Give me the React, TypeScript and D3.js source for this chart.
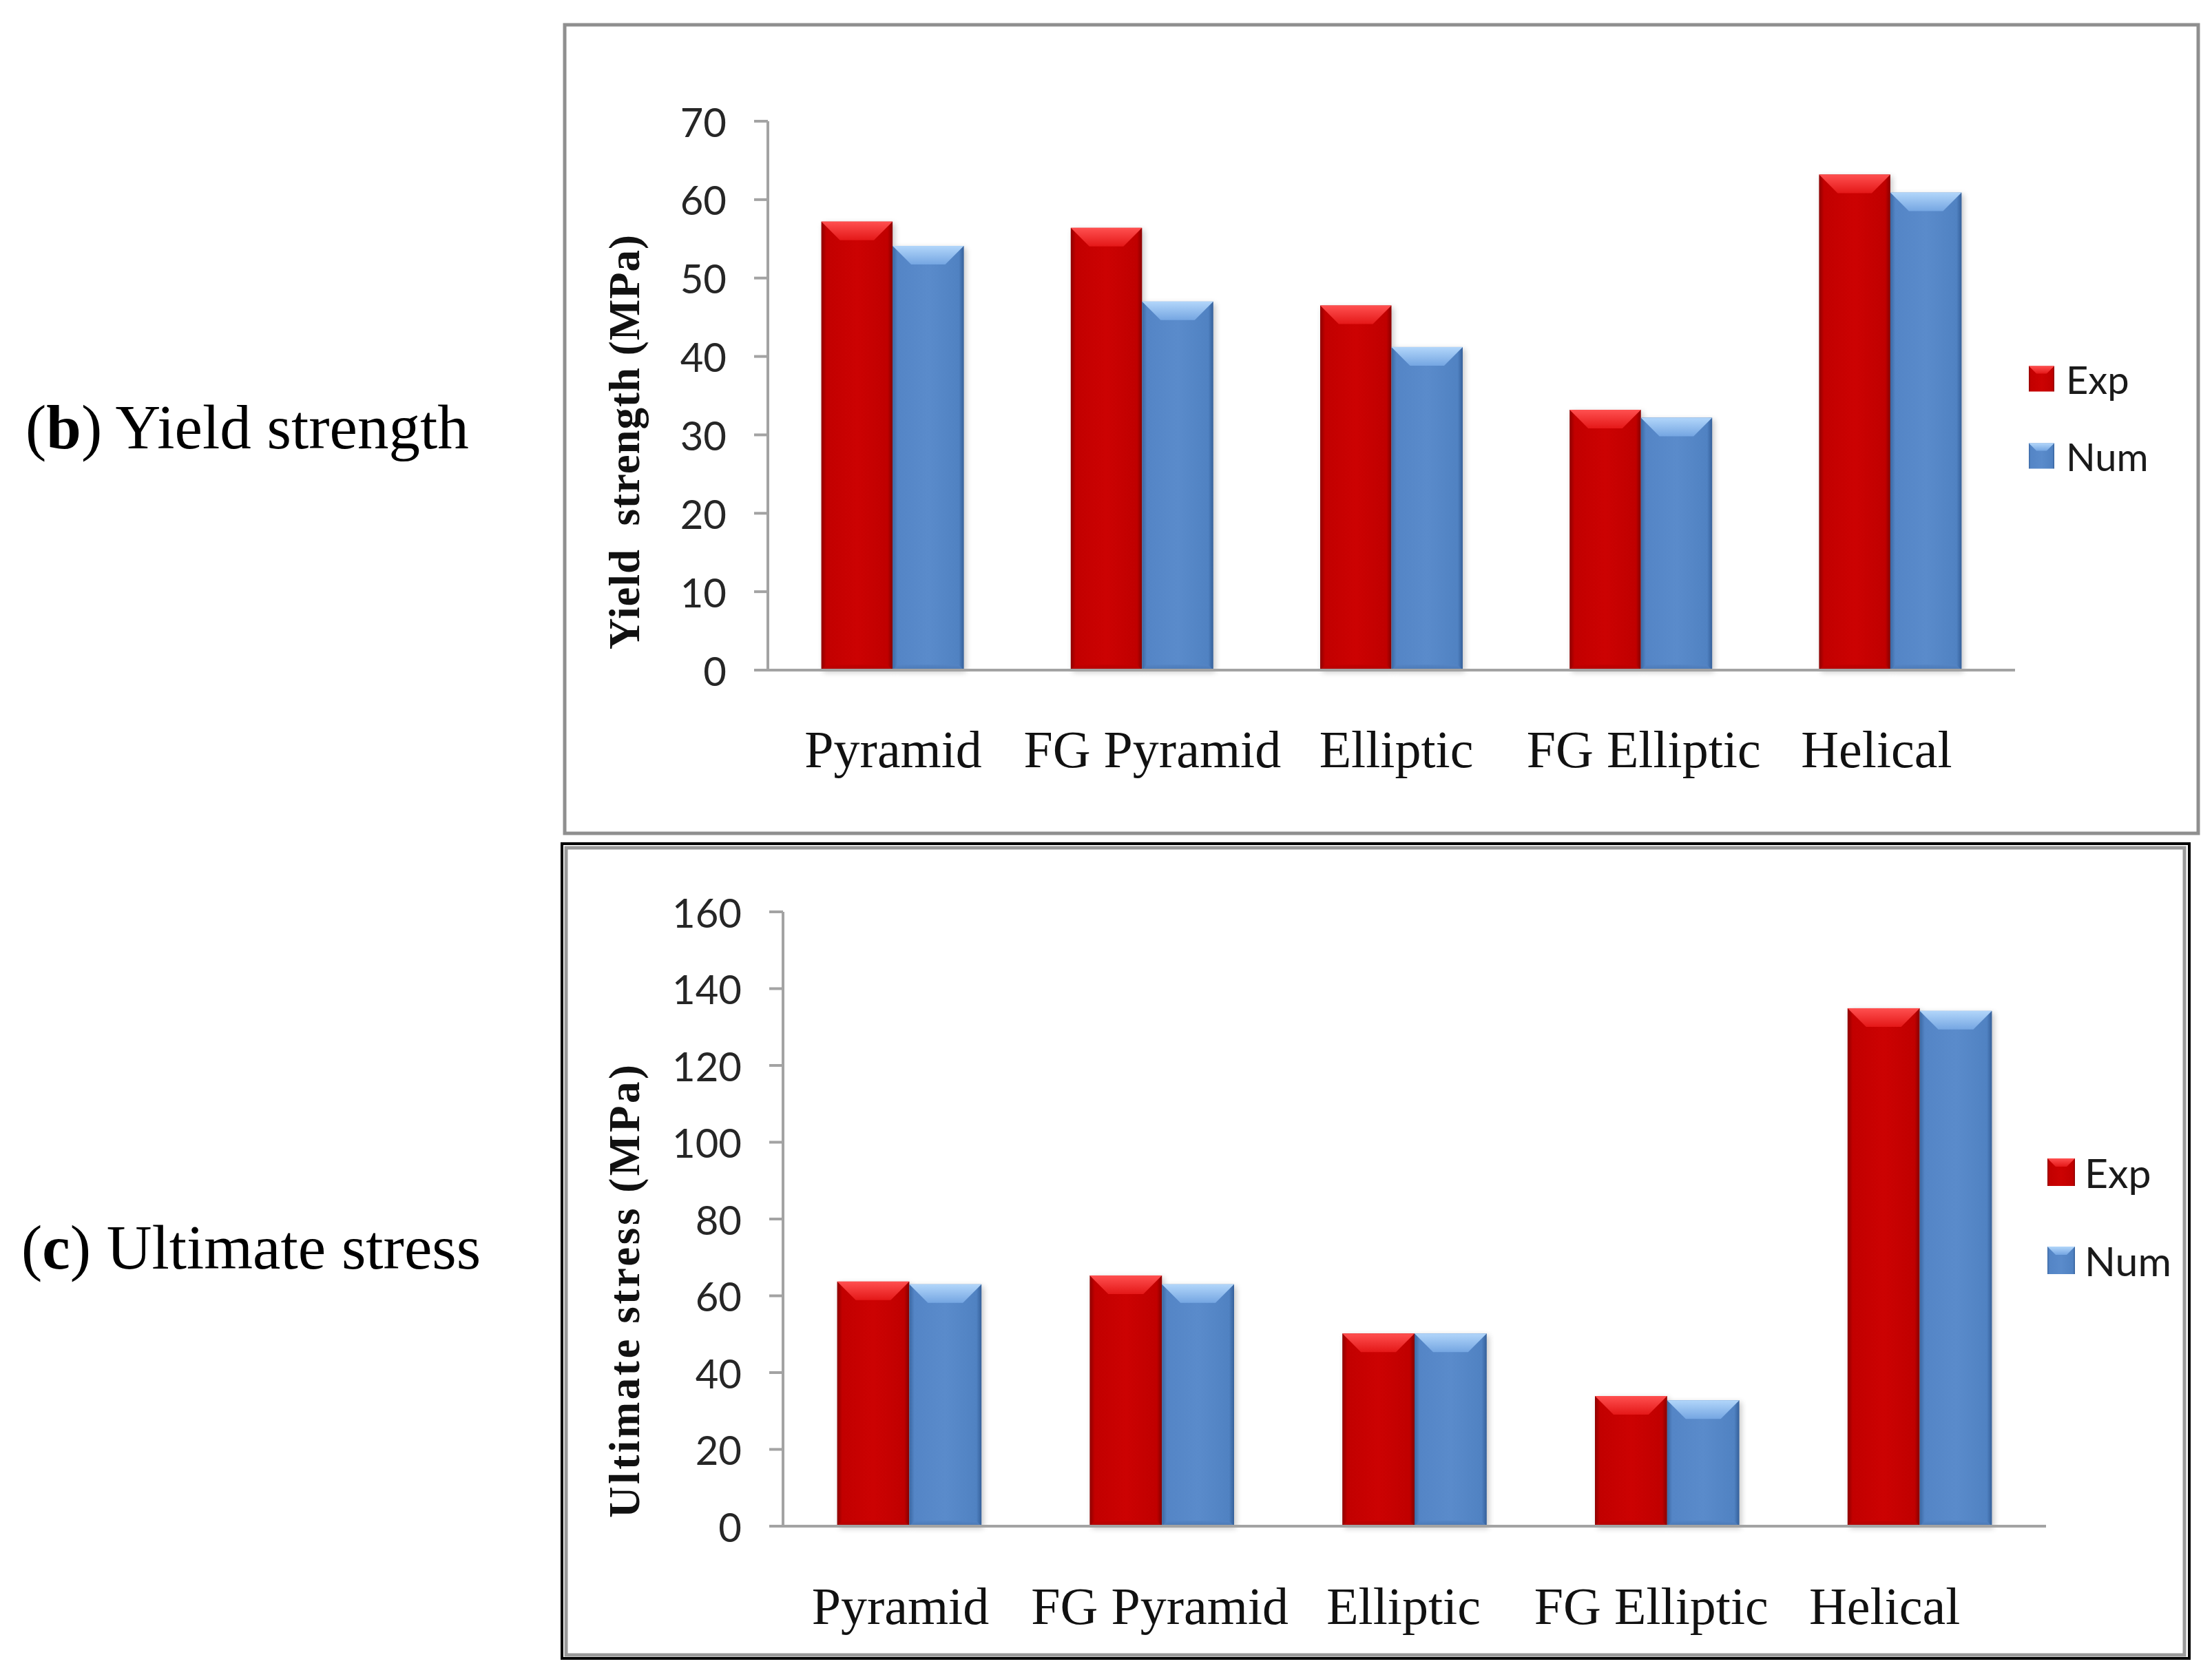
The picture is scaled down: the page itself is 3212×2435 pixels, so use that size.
import React from "react";
import * as d3 from "d3";

const categories = ["Pyramid", "FG Pyramid", "Elliptic", "FG Elliptic", "Helical"];
const seriesNames = ["Exp", "Num"];
const yieldExp = [57.2, 56.4, 46.5, 33.2, 63.2];
const yieldNum = [54.1, 47.0, 41.2, 32.2, 60.9];
const ultExp = [63.7, 65.3, 50.2, 33.9, 134.9];
const ultNum = [63.0, 63.0, 50.2, 32.8, 134.2];
const yieldTicks = [0, 10, 20, 30, 40, 50, 60, 70];
const ultTicks = [0, 20, 40, 60, 80, 100, 120, 140, 160];

const W = 3212;
const H = 2435;
const SERIF = "'Liberation Serif', 'Times New Roman', serif";
const SANS = "Lato, 'Open Sans', sans-serif";

type Cfg = {
  x0: number; x1: number; yBase: number; yTop: number; max: number;
  ticks: number[]; exp: number[]; num: number[];
  title: string; titleX: number; titleY: number; titleLen: number;
  labelY: number; labelShift: number[]; legendX: number; legendY: number[]; legendSize: number;
  legendFont: number; legendTextX: number;
};

function Bar({ x, y, w, h, s }: { x: number; y: number; w: number; h: number; s: number }) {
  const b = 27;
  const id = s === 0 ? "red" : "blue";
  const top = `${x},${y} ${x + w},${y} ${x + w - b},${y + b} ${x + b},${y + b}`;
  const bot = `${x},${y + h} ${x + w},${y + h} ${x + w - 8},${y + h - 8} ${x + 8},${y + h - 8}`;
  return (
    <g>
      <rect x={x + 3} y={y + 3} width={w} height={h} fill="#000" opacity={0.22} filter="url(#shadow)" />
      <rect x={x} y={y} width={w} height={h} fill={`url(#${id}Body)`} />
      <polygon points={top} fill={`url(#${id}Top)`} />
      <polygon points={bot} fill={`url(#${id}Bot)`} />
    </g>
  );
}

function LegendSwatch({ x, y, size, s }: { x: number; y: number; size: number; s: number }) {
  const id = s === 0 ? "red" : "blue";
  const b = size * 0.3;
  return (
    <g>
      <rect x={x} y={y} width={size} height={size} fill={`url(#${id}Body)`} />
      <polygon
        points={`${x},${y} ${x + size},${y} ${x + size - b},${y + b} ${x + b},${y + b}`}
        fill={`url(#${id}Top)`}
      />
    </g>
  );
}

function Chart({ c }: { c: Cfg }) {
  const x = d3
    .scaleBand<string>()
    .domain(categories)
    .range([c.x0, c.x1])
    .paddingInner(1.5 / 3.5)
    .paddingOuter(0.75 / 3.5);
  const xs = d3.scaleBand<string>().domain(seriesNames).range([0, x.bandwidth()]);
  const y = d3.scaleLinear().domain([0, c.max]).range([c.yBase, c.yTop]);
  const data = [c.exp, c.num];
  const axisColor = "#a3a3a3";
  return (
    <g>
      {/* y axis */}
      <line x1={c.x0} x2={c.x0} y1={y(c.max)} y2={y(0)} stroke={axisColor} strokeWidth={4} />
      {c.ticks.map((t) => (
        <g key={t}>
          <line x1={c.x0 - 20} x2={c.x0} y1={y(t)} y2={y(t)} stroke={axisColor} strokeWidth={4} />
          <text
            x={c.x0 - 60}
            y={y(t)}
            textAnchor="end"
            dominantBaseline="central"
            fontFamily={SANS}
            fontSize={58}
            fill="#262626"
          >
            {t}
          </text>
        </g>
      ))}
      {/* bars */}
      {data.map((vals, s) =>
        vals.map((v, i) => {
          const bx = (x(categories[i]) as number) + (xs(seriesNames[s]) as number);
          return <Bar key={`${s}-${i}`} x={bx} y={y(v)} w={xs.bandwidth()} h={y(0) - y(v)} s={s} />;
        })
      )}
      {/* x axis */}
      <line x1={c.x0} x2={c.x1} y1={y(0)} y2={y(0)} stroke={axisColor} strokeWidth={4} />
      {categories.map((cat, i) => (
        <text
          key={cat}
          x={(x(cat) as number) + x.bandwidth() / 2 + c.labelShift[i]}
          y={c.labelY}
          textAnchor="middle"
          fontFamily={SERIF}
          fontSize={76}
          fill="#111"
        >
          {cat}
        </text>
      ))}
      {/* y title */}
      <text
        transform={`translate(${c.titleX},${c.titleY}) rotate(-90)`}
        textAnchor="middle"
        fontFamily={SERIF}
        fontWeight="bold"
        fontSize={63}
        fill="#111"
        textLength={c.titleLen}
        lengthAdjust="spacing"
        style={{ whiteSpace: "pre" }}
      >
        {c.title}
      </text>
      {/* legend */}
      {seriesNames.map((n, s) => (
        <g key={n}>
          <LegendSwatch x={c.legendX} y={c.legendY[s] - c.legendSize / 2} size={c.legendSize} s={s} />
          <text
            x={c.legendTextX}
            y={c.legendY[s]}
            dominantBaseline="central"
            fontFamily={SANS}
            fontSize={c.legendFont}
            fill="#1a1a1a"
          >
            {n}
          </text>
        </g>
      ))}
    </g>
  );
}

const topCfg: Cfg = {
  x0: 1115, x1: 2926, yBase: 973, yTop: 176, max: 70, ticks: yieldTicks,
  exp: yieldExp, num: yieldNum,
  title: "Yield  strength (MPa)", titleX: 928, titleY: 642, titleLen: 602,
  labelY: 1114, labelShift: [1, 15, 7, 4, -20],
  legendX: 2946, legendY: [550, 662], legendSize: 37, legendFont: 56, legendTextX: 3000,
};

const botCfg: Cfg = {
  x0: 1137, x1: 2971, yBase: 2216, yTop: 1324, max: 160, ticks: ultTicks,
  exp: ultExp, num: ultNum,
  title: "Ultimate stress (MPa)", titleX: 928, titleY: 1875, titleLen: 658,
  labelY: 2358, labelShift: [-13, -3, -16, -23, -51],
  legendX: 2973, legendY: [1702, 1830], legendSize: 40, legendFont: 59, legendTextX: 3027,
};

export default function App() {
  return (
    <svg
      width={W}
      height={H}
      viewBox={`0 0 ${W} ${H}`}
      style={{ position: "absolute", left: 0, top: 0, display: "block", background: "#fff" }}
    >
      <defs>
        <filter id="shadow" x="-20%" y="-20%" width="140%" height="140%">
          <feGaussianBlur stdDeviation="4" />
        </filter>
        <linearGradient id="redBody" x1="0" x2="1" y1="0" y2="0">
          <stop offset="0" stopColor="#8e0000" />
          <stop offset="0.07" stopColor="#c20000" />
          <stop offset="0.5" stopColor="#cc0202" />
          <stop offset="0.93" stopColor="#c00000" />
          <stop offset="1" stopColor="#8a0000" />
        </linearGradient>
        <linearGradient id="redTop" x1="0" x2="0" y1="0" y2="1">
          <stop offset="0" stopColor="#ff5050" />
          <stop offset="1" stopColor="#e41818" />
        </linearGradient>
        <linearGradient id="redBot" x1="0" x2="0" y1="0" y2="1">
          <stop offset="0" stopColor="#c40000" />
          <stop offset="1" stopColor="#b00000" />
        </linearGradient>
        <linearGradient id="blueBody" x1="0" x2="1" y1="0" y2="0">
          <stop offset="0" stopColor="#3b68a3" />
          <stop offset="0.07" stopColor="#5485c6" />
          <stop offset="0.5" stopColor="#5a8bcb" />
          <stop offset="0.93" stopColor="#5082c2" />
          <stop offset="1" stopColor="#35609a" />
        </linearGradient>
        <linearGradient id="blueTop" x1="0" x2="0" y1="0" y2="1">
          <stop offset="0" stopColor="#b2d6fa" />
          <stop offset="1" stopColor="#75a6e2" />
        </linearGradient>
        <linearGradient id="blueBot" x1="0" x2="0" y1="0" y2="1">
          <stop offset="0" stopColor="#5585c5" />
          <stop offset="1" stopColor="#4a78b5" />
        </linearGradient>
      </defs>
      <rect x={0} y={0} width={W} height={H} fill="#fff" />

      {/* panel frames */}
      <rect x={820} y={36} width={2372} height={1174} fill="#fff" stroke="#8f8f8f" strokeWidth={5} />
      <rect x={816} y={1225} width={2363} height={1183} fill="#fff" stroke="#000" strokeWidth={4} />
      <rect x={822} y={1231} width={2350} height={1172} fill="none" stroke="#9a9a9a" strokeWidth={5} />

      {/* left labels */}
      <text x={37} y={651} fontFamily={SERIF} fontSize={91} fill="#000">
        (<tspan fontWeight="bold">b</tspan>) Yield strength
      </text>
      <text x={31} y={1842} fontFamily={SERIF} fontSize={91} fill="#000">
        (<tspan fontWeight="bold">c</tspan>) Ultimate stress
      </text>

      <Chart c={topCfg} />
      <Chart c={botCfg} />
    </svg>
  );
}
